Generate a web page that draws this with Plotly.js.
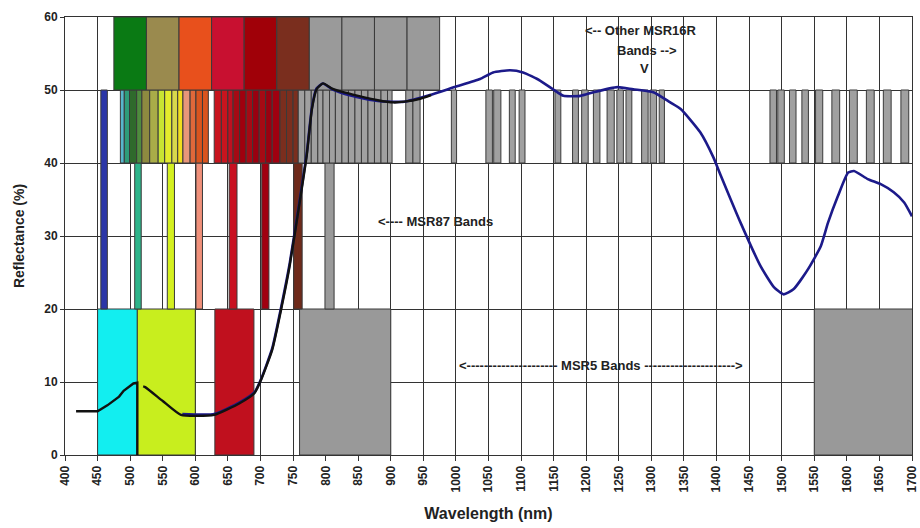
<!DOCTYPE html>
<html><head><meta charset="utf-8">
<script src="https://cdn.plot.ly/plotly-3.0.1.min.js"></script>
<style>html,body{margin:0;padding:0;background:#fff}#chart{width:920px;height:528px}</style>
</head><body><div id="chart"></div>
<script>
// ---- Data (wavelengths in nm, reflectance in %) ----
// MSR5 bands (bottom tier, 0-20 %)
const msr5Start = [450, 511, 630, 760, 1550];
const msr5End   = [511, 600, 690, 900, 1750];
const msr5Colors = ['#12EEF0', '#C8EE1E', '#C0101E', '#999999', '#999999'];

// MSR87 highlighted narrow bands (20-40 %)
const msr87Start = [507, 557, 601, 652, 702, 751, 799];
const msr87End   = [517, 568, 611, 664, 713, 764, 813];
const msr87Colors = ['#2DB48A', '#D4F020', '#F0907A', '#C81020', '#A00010', '#6E2A1A', '#9A9A9A'];

// Blue band spanning 20-50 %
const blueBandStart = [455];
const blueBandEnd = [465];

// Dense narrow bands (40-50 %)
const denseStart = [485,491,499,510,518,530,543,553,564,573,581,592,601,611,
  629,640,650,658,668,678,688,698,708,718,730,740,750,
  758,768,778,788,796,806,815,825,835,845,855,865,875,885,895,
  923,934,993,
  1046,1058,1082,1097,1152,1179,1193,1211,1232,1247,1261,1285,1298,1312,
  1482,1494,1512,1531,1552,1577,1604,1630,1656,1683];
const denseEnd = [491,499,510,518,530,543,553,564,573,581,592,601,611,620,
  640,650,658,668,678,688,698,708,718,730,740,750,758,
  768,778,788,796,806,815,825,835,845,855,865,875,885,895,902,
  934,945,1001,
  1056,1069,1091,1106,1161,1188,1203,1221,1243,1257,1270,1295,1308,1320,
  1492,1504,1522,1541,1563,1589,1616,1642,1668,1695];
const denseColors = ['#58B6CC','#2E9C7A','#2F6A2C','#4E8C3E','#8E8A40','#A9AC48','#C8E432','#E4EC2C','#D8D84C','#F2DE1E','#E8967A','#E0683A','#D9541E','#D9541E',
  '#C8141E','#C8141E','#C01020','#A50A14','#A0000E','#A50A14','#9A0010','#A50A14','#9A0010','#A00010','#7B2E1E','#7B2E1E','#7B2E1E',
  '#A0A0A0','#A0A0A0','#A0A0A0','#A0A0A0','#A0A0A0','#A0A0A0','#A0A0A0','#A0A0A0','#A0A0A0','#A0A0A0','#A0A0A0','#A0A0A0','#A0A0A0','#A0A0A0','#A0A0A0',
  '#A0A0A0','#A0A0A0','#A0A0A0',
  '#A0A0A0','#A0A0A0','#A0A0A0','#A0A0A0','#A0A0A0','#A0A0A0','#A0A0A0','#A0A0A0','#A0A0A0','#A0A0A0','#A0A0A0','#A0A0A0','#A0A0A0','#A0A0A0',
  '#A0A0A0','#A0A0A0','#A0A0A0','#A0A0A0','#A0A0A0','#A0A0A0','#A0A0A0','#A0A0A0','#A0A0A0','#A0A0A0'];

// MSR16R wide bands (top tier, 50-60 %)
const topStart = [475, 525, 575, 625, 675, 725, 775, 825, 875, 925];
const topEnd   = [525, 575, 625, 675, 725, 775, 825, 875, 925, 975];
const topColors = ['#0A7A14','#9A8A4E','#E8501C','#C81030','#A00008','#7A2E1E','#9A9A9A','#9A9A9A','#9A9A9A','#9A9A9A'];

// Reflectance curves
const blackWl1 = [417, 450, 465, 483, 490, 497, 505, 511, 511];
const blackR1  = [6.0, 6.0, 6.8, 8.0, 8.8, 9.3, 9.8, 9.9, 0];
const blackWl2 = [520, 523, 550, 578, 629, 668, 691, 701, 718, 733, 745, 760, 771, 779, 786, 796, 810, 827, 850, 880, 904, 921, 945, 962];
const blackR2  = [9.4, 9.3, 7.4, 5.5, 5.5, 7.1, 8.5, 10.3, 14.4, 20.5, 26, 34.5, 41, 47.4, 50.1, 50.9, 50.2, 49.7, 49.2, 48.6, 48.3, 48.4, 48.8, 49.3];
const blueWl = [580, 629, 668, 691, 701, 718, 733, 745, 760, 771, 779, 786, 796, 810, 840, 880, 921, 960, 998, 1037, 1057, 1083, 1103, 1129, 1149, 1165, 1191, 1211, 1248, 1272, 1303, 1329, 1345, 1375, 1395, 1406, 1437, 1468, 1488, 1503, 1518, 1540, 1560, 1571, 1586, 1602, 1611, 1632, 1652, 1672, 1688, 1700];
const blueR  = [5.6, 5.6, 7.2, 8.6, 10.4, 14.6, 20.8, 26.3, 34.8, 41.3, 47.6, 50.2, 50.9, 50.1, 49.2, 48.5, 48.4, 49.3, 50.4, 51.5, 52.4, 52.7, 52.4, 51.3, 50.1, 49.2, 49.2, 49.7, 50.4, 50.1, 49.7, 48.3, 47.4, 44.2, 40.8, 38.4, 31.8, 25.8, 23.0, 22.0, 22.7, 25.4, 28.6, 31.8, 35.4, 38.7, 38.9, 37.8, 37.1, 36.0, 34.6, 32.7];

// ---- Build traces ----
function bandTrace(starts, ends, colors, lo, hi) {
  return {
    type: 'bar',
    x: starts.map((s, i) => (s + ends[i]) / 2),
    width: starts.map((s, i) => ends[i] - s),
    y: starts.map(() => hi - lo),
    base: starts.map(() => lo),
    marker: { color: colors, line: { color: '#3a3a3a', width: 1 } },
    hoverinfo: 'skip', showlegend: false
  };
}

const traces = [
  bandTrace(msr5Start, msr5End, msr5Colors, 0, 20),
  bandTrace(msr87Start, msr87End, msr87Colors, 20, 40),
  bandTrace(blueBandStart, blueBandEnd, ['#2B36A8'], 20, 50),
  bandTrace(denseStart, denseEnd, denseColors, 40, 50),
  bandTrace(topStart, topEnd, topColors, 50, 60),
  { type: 'scatter', mode: 'lines', x: blueWl, y: blueR, line: { color: '#1C1A8A', width: 2.6, shape: 'spline', smoothing: 0.5 }, hoverinfo: 'skip', showlegend: false },
  { type: 'scatter', mode: 'lines', x: blackWl1, y: blackR1, line: { color: '#111111', width: 2.4 }, hoverinfo: 'skip', showlegend: false },
  { type: 'scatter', mode: 'lines', x: blackWl2, y: blackR2, line: { color: '#111111', width: 2.4, shape: 'spline', smoothing: 0.5 }, hoverinfo: 'skip', showlegend: false }
];

const annFont = { family: 'Liberation Sans, Arial, sans-serif', size: 13, color: '#222', weight: 'bold' };
const layout = {
  width: 920, height: 528,
  margin: { l: 65, r: 8, t: 17, b: 73 },
  paper_bgcolor: '#fff', plot_bgcolor: '#fff',
  barmode: 'overlay',
  font: { family: 'Liberation Sans, Arial, sans-serif', color: '#222' },
  xaxis: {
    range: [400, 1700], tick0: 400, dtick: 50, tickangle: -90,
    showgrid: true, gridcolor: '#333', gridwidth: 1,
    showline: true, linecolor: '#333', mirror: true, zeroline: false,
    ticks: 'outside', ticklen: 5, tickcolor: '#333',
    tickfont: { size: 12, weight: 'bold', color: '#222' },
    title: { text: 'Wavelength (nm)', font: { size: 16, weight: 'bold', color: '#222' }, standoff: 16 }
  },
  yaxis: {
    range: [0, 60], dtick: 10,
    showgrid: true, gridcolor: '#333', gridwidth: 1,
    showline: true, linecolor: '#333', mirror: true, zeroline: false,
    ticks: 'outside', ticklen: 4, tickcolor: '#333',
    tickfont: { size: 12, weight: 'bold', color: '#222' },
    title: { text: 'Reflectance (%)', font: { size: 14, weight: 'bold', color: '#222' }, standoff: 16 }
  },
  annotations: [
    { x: 1283, y: 58.2, text: '<-- Other MSR16R', showarrow: false, font: annFont, xanchor: 'center' },
    { x: 1294, y: 55.4, text: 'Bands -->', showarrow: false, font: annFont, xanchor: 'center' },
    { x: 1289, y: 52.9, text: 'V', showarrow: false, font: annFont, xanchor: 'center' },
    { x: 968, y: 32.0, text: '<---- MSR87 Bands', showarrow: false, font: annFont, xanchor: 'center' },
    { x: 1223, y: 12.2, text: '<--------------------- MSR5 Bands --------------------->', showarrow: false, font: annFont, xanchor: 'center' }
  ]
};

Plotly.newPlot('chart', traces, layout, { staticPlot: true, displayModeBar: false });
</script>
</body></html>
